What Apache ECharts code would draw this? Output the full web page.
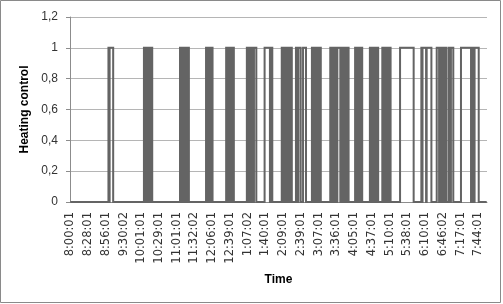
<!DOCTYPE html>
<html>
<head>
<meta charset="utf-8">
<script src="https://cdn.jsdelivr.net/npm/echarts@6/dist/echarts.min.js"></script>
<style>
html,body{margin:0;padding:0;background:#fff;}
#chart{width:503px;height:304px;}
</style>
</head>
<body>
<div id="chart"></div>
<script>
// Time labels shown on the category axis (one every samplesPerLabel samples)
const xLabels = ['8:00:01','8:28:01','8:56:01','9:30:02','10:01:01','10:29:01','11:01:01','11:32:02',
  '12:06:01','12:39:01','1:07:02','1:40:01','2:09:01','2:39:01','3:07:01','3:36:01','4:05:01',
  '4:37:01','5:10:01','5:38:01','6:10:01','6:46:02','7:17:01','7:44:01'];
const samplesPerLabel = 30;
const sampleCount = 705;
// Heating ON periods, as [first sample, last sample] (inclusive)
const onRuns = [
  [65,65],[67,72],
  [125,127],[129,129],[131,132],[134,134],[136,138],
  [186,188],[190,191],[193,194],[197,197],[199,200],
  [230,232],[234,235],[237,238],[240,240],
  [264,266],[268,269],[271,273],[275,276],
  [299,301],[303,304],[306,307],[311,314],
  [329,337],[339,341],
  [358,360],[362,363],[365,366],[369,370],[372,374],
  [382,384],[386,389],[394,398],
  [409,410],[412,414],[416,417],[419,420],[422,423],
  [440,442],[444,445],[447,449],[452,456],
  [459,461],[463,464],[466,467],[469,470],
  [482,484],[486,487],[489,490],[492,493],
  [507,509],[511,512],[514,516],[518,520],
  [528,530],[532,533],[535,537],[539,541],
  [558,580],
  [594,594],[596,601],[603,610],
  [620,623],[625,627],[629,631],[633,635],[640,641],[644,647],
  [661,677],[681,682],[684,690]
];
const yTickLabels = ['0','0,2','0,4','0,6','0,8','1','1,2'];

// build per-sample series from the read runs
const heating = new Array(sampleCount).fill(0);
onRuns.forEach(([a,b]) => { for (let i = a; i <= b; i++) heating[i] = 1; });
const cats = heating.map((_, i) => String(i));
const tickIdx = [45,111,177,242,308,374,439,505,571,637,702];

function renderHeating(params, api) {
  if (params.dataIndexInside !== 0) return null;
  const pts = [];
  let prev = null;
  const n = params.dataInsideLength;
  for (let j = 0; j < n; j++) {
    const p = api.coord([api.value(0, j), api.value(1, j)]);
    if (prev && prev[1] !== p[1]) {
      const mx = (prev[0] + p[0]) / 2;
      pts.push([mx, prev[1]], [mx, p[1]]);
    }
    pts.push(p);
    prev = p;
  }
  return {
    type: 'polyline',
    silent: true,
    shape: {points: pts},
    style: {stroke: '#646464', lineWidth: 2, fill: null, lineJoin: 'miter'}
  };
}

const chart = echarts.init(document.getElementById('chart'), null, {renderer:'canvas'});
chart.setOption({
  animation: false,
  backgroundColor: '#fff',
  graphic: [{
    type: 'rect', silent: true,
    shape: {x: 0.5, y: 0.5, width: 500, height: 302},
    style: {fill: 'none', stroke: '#8a8a8a', lineWidth: 1}
  }],
  grid: {left: 70, right: 16, top: 17, bottom: 102, containLabel: false},
  xAxis: {
    type: 'category',
    data: cats,
    boundaryGap: true,
    name: 'Time',
    nameLocation: 'middle',
    nameGap: 72,
    nameTextStyle: {fontFamily: 'Liberation Sans', fontWeight: 'bold', fontSize: 12, color: '#000'},
    axisLine: {lineStyle: {color: '#8c8c8c', width: 1}},
    axisTick: {
      interval: (i) => tickIdx.indexOf(i) >= 0,
      length: 5,
      lineStyle: {color: '#8c8c8c'}
    },
    axisLabel: {
      interval: samplesPerLabel - 1,
      rotate: 90,
      margin: 10,
      formatter: (v, i) => (i % samplesPerLabel === 0 && xLabels[i / samplesPerLabel]) || '',
      fontFamily: 'DejaVu Sans',
      fontSize: 11.5,
      color: '#333'
    },
    splitLine: {show: false}
  },
  yAxis: {
    type: 'value',
    min: 0, max: 1.2, interval: 0.2,
    name: 'Heating control',
    nameLocation: 'middle',
    nameGap: 36,
    nameTextStyle: {fontFamily: 'Liberation Sans', fontWeight: 'bold', fontSize: 12, color: '#000'},
    axisLine: {show: true, lineStyle: {color: '#8c8c8c', width: 1}},
    axisTick: {show: true, length: 4, lineStyle: {color: '#8c8c8c'}},
    axisLabel: {
      formatter: (v) => yTickLabels[Math.round(v / 0.2)],
      fontFamily: 'Liberation Sans',
      fontSize: 12,
      color: '#333',
      margin: 12
    },
    splitLine: {lineStyle: {color: '#b5b5b5', width: 1}}
  },
  series: [{
    type: 'custom',
    renderItem: renderHeating,
    data: heating.map((v, i) => [i, v]),
    encode: {x: 0, y: 1},
    clip: false
  }]
});
</script>
</body>
</html>
